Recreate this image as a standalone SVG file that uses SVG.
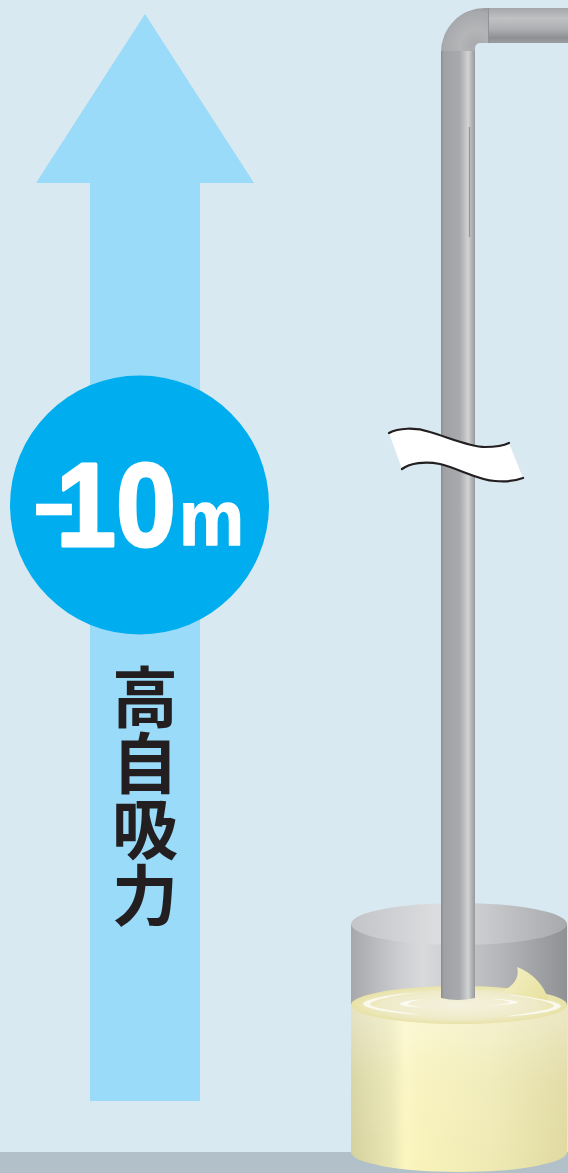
<svg xmlns="http://www.w3.org/2000/svg" width="568" height="1173" viewBox="0 0 568 1173">
  <defs>
    <style>
      .bg { fill: #d9e9f1; }
      .floor { fill: #b1c0c9; }
      .arrow { fill: #99dbf8; }
      .badge { fill: #00aeef; }
      .badge-text { font-family: "Liberation Sans", Arial, sans-serif; font-weight: 700; fill: #ffffff; stroke: #ffffff; stroke-linejoin: round; }
      .cjk { font-family: "Noto Sans CJK JP", "Noto Sans CJK SC", sans-serif; font-weight: 700; fill: #231f20; font-size: 66px; }
      .break-edge { fill: none; stroke: #231f20; stroke-width: 2.2; stroke-linecap: round; }
      .ripple { fill: #ffffff; opacity: 0.75; }
    </style>
    <!-- vertical pipe shading, left to right -->
    <linearGradient id="pipeV" x1="0" y1="0" x2="1" y2="0">
      <stop offset="0" stop-color="#898b8e"/>
      <stop offset="0.08" stop-color="#9fa1a4"/>
      <stop offset="0.55" stop-color="#a8aaad"/>
      <stop offset="0.68" stop-color="#bcbec0"/>
      <stop offset="0.8" stop-color="#d2d3d5"/>
      <stop offset="0.9" stop-color="#b2b4b6"/>
      <stop offset="1" stop-color="#96989b"/>
    </linearGradient>
    <!-- horizontal pipe shading, top to bottom -->
    <linearGradient id="pipeH" x1="0" y1="0" x2="0" y2="1">
      <stop offset="0" stop-color="#a4a6a9"/>
      <stop offset="0.3" stop-color="#bfc1c3"/>
      <stop offset="0.6" stop-color="#adafb2"/>
      <stop offset="0.85" stop-color="#8e9093"/>
      <stop offset="1" stop-color="#9a9c9f"/>
    </linearGradient>
    <radialGradient id="elbow" cx="477" cy="46" r="42" gradientUnits="userSpaceOnUse">
      <stop offset="0" stop-color="#a6a8ab"/>
      <stop offset="0.4" stop-color="#b3b5b7"/>
      <stop offset="0.8" stop-color="#a7a9ac"/>
      <stop offset="1" stop-color="#929497"/>
    </radialGradient>
    <!-- container walls -->
    <linearGradient id="tankBody" x1="351" y1="0" x2="567" y2="0" gradientUnits="userSpaceOnUse">
      <stop offset="0" stop-color="#a6a8ab"/>
      <stop offset="0.22" stop-color="#cbcccf"/>
      <stop offset="0.33" stop-color="#d9dadc"/>
      <stop offset="0.7" stop-color="#b4b5b8"/>
      <stop offset="1" stop-color="#8f9195"/>
    </linearGradient>
    <linearGradient id="tankTop" x1="351" y1="0" x2="567" y2="0" gradientUnits="userSpaceOnUse">
      <stop offset="0" stop-color="#c3c4c7"/>
      <stop offset="0.4" stop-color="#dcdddf"/>
      <stop offset="1" stop-color="#a8a9ac"/>
    </linearGradient>
    <!-- liquid -->
    <linearGradient id="liquid" x1="351" y1="0" x2="567" y2="0" gradientUnits="userSpaceOnUse">
      <stop offset="0" stop-color="#d5d19d"/>
      <stop offset="0.18" stop-color="#e9e5b1"/>
      <stop offset="0.25" stop-color="#fbf5bf"/>
      <stop offset="0.32" stop-color="#f8f2ba"/>
      <stop offset="0.65" stop-color="#efeab4"/>
      <stop offset="1" stop-color="#e0d99f"/>
    </linearGradient>
    <linearGradient id="liquidFade" x1="0" y1="1005" x2="0" y2="1172" gradientUnits="userSpaceOnUse">
      <stop offset="0" stop-color="#ffffff" stop-opacity="0.4"/>
      <stop offset="0.45" stop-color="#ffffff" stop-opacity="0.1"/>
      <stop offset="1" stop-color="#ffffff" stop-opacity="0"/>
    </linearGradient>
    <radialGradient id="surface" cx="459" cy="1005" r="108" gradientUnits="userSpaceOnUse" gradientTransform="translate(0 1005) scale(1 0.18) translate(0 -1005)">
      <stop offset="0" stop-color="#f4f2df"/>
      <stop offset="0.7" stop-color="#efebc9"/>
      <stop offset="1" stop-color="#e8e2a6"/>
    </radialGradient>
    <linearGradient id="splash" x1="505" y1="968" x2="549" y2="1000" gradientUnits="userSpaceOnUse">
      <stop offset="0" stop-color="#f3efc4"/>
      <stop offset="1" stop-color="#e8e19e"/>
    </linearGradient>
  </defs>

  <!-- backdrop and floor -->
  <rect class="bg" x="0" y="0" width="568" height="1173"/>
  <rect class="floor" x="0" y="1152" width="568" height="21"/>

  <!-- suction arrow -->
  <g id="arrow">
    <polygon class="arrow" points="145,14 254,183 200,183 200,1101 90,1101 90,183 36,183"/>
  </g>

  <!-- depth badge -->
  <g id="badge">
    <circle class="badge" cx="139.5" cy="505" r="129.5"/>
    <text class="badge-text"><tspan x="31" y="534" font-size="92" stroke-width="0.5" textLength="46" lengthAdjust="spacingAndGlyphs">-</tspan><tspan x="56" y="546" font-size="118" stroke-width="3" textLength="120" lengthAdjust="spacingAndGlyphs">10</tspan><tspan x="179" y="545" font-size="78" stroke-width="1.5" textLength="65" lengthAdjust="spacingAndGlyphs">m</tspan></text>
  </g>

  <!-- vertical caption -->
  <g id="caption">
    <text class="cjk" x="145" y="664" writing-mode="vertical-rl">高自吸力</text>
  </g>

  <!-- container with liquid -->
  <g id="tank">
    <path d="M351,924 L351,1005 L567,1005 L567,924 Z" fill="url(#tankBody)"/>
    <ellipse cx="459" cy="924" rx="108" ry="21" fill="url(#tankTop)"/>
    <path d="M351,1005 L351,1152 A108,20 0 0 0 567,1152 L567,1005 Z" fill="url(#liquid)"/>
    <path d="M351,1005 L351,1152 A108,20 0 0 0 567,1152 L567,1005 Z" fill="url(#liquidFade)"/>
    <ellipse cx="459" cy="1005" rx="108" ry="19" fill="url(#surface)"/>
    <path d="M503,991 C513,986 520,978 517,967 C531,972 545,985 549,1002 C534,999 518,995 503,991 Z" fill="url(#splash)"/>
    <!-- ripples -->
    <path class="ripple" d="M421,992 C392,994 363,999 363,1004 C364,1009 392,1013 422,1015 C396,1011 370,1008 370,1004 C371,1000 396,995 421,992 Z"/>
    <path class="ripple" d="M424,999 C410,1000 400,1002 400,1004 C401,1006 412,1007 425,1008 C414,1006 408,1005 408,1004 C409,1002 414,1001 424,999 Z"/>
    <path class="ripple" d="M488,998 C505,999 518,1001 518,1002.5 C517,1004 505,1005 490,1006 C502,1004 510,1003 510,1002.5 C509,1001 500,999.5 488,998 Z"/>
    <path class="ripple" d="M502,994 C535,997 561,1002 561,1006 C560,1011 535,1015 500,1017 C530,1013 554,1009 554,1006 C553,1002 532,998 502,994 Z"/>
  </g>

  <!-- suction pipe -->
  <g id="pipe">
    <rect x="488" y="8" width="80" height="35" fill="url(#pipeH)"/>
    <path d="M441,52 A44,44 0 0 1 485,8 L489,8 L489,43 L480,43 A5,5 0 0 0 475,48 L475,52 Z" fill="url(#elbow)"/>
    <line x1="488.5" y1="8" x2="488.5" y2="43" stroke="#8f9194" stroke-width="1"/>
    <path d="M441,51 L475,51 L475,998 Q458,1002 441,998 Z" fill="url(#pipeV)"/>
    <line x1="469.5" y1="127" x2="469.5" y2="237" stroke="#707275" stroke-width="1.2" opacity="0.6"/>
  </g>

  <!-- length break mark -->
  <g id="break">
    <path d="M389,433 C398,428 415,427 430,432 C450,438 470,447 485,447 C495,447 503,446 509,443 L523,478 C515,481 505,482 495,481 C478,480 460,469 440,464 C425,461 410,463 402,469 Z" fill="#ffffff"/>
    <path class="break-edge" d="M389,433 C398,428 415,427 430,432 C450,438 470,447 485,447 C495,447 503,446 509,443"/>
    <path class="break-edge" d="M402,469 C410,463 425,461 440,464 C460,469 478,480 495,481 C505,482 515,481 523,478"/>
  </g>
</svg>
